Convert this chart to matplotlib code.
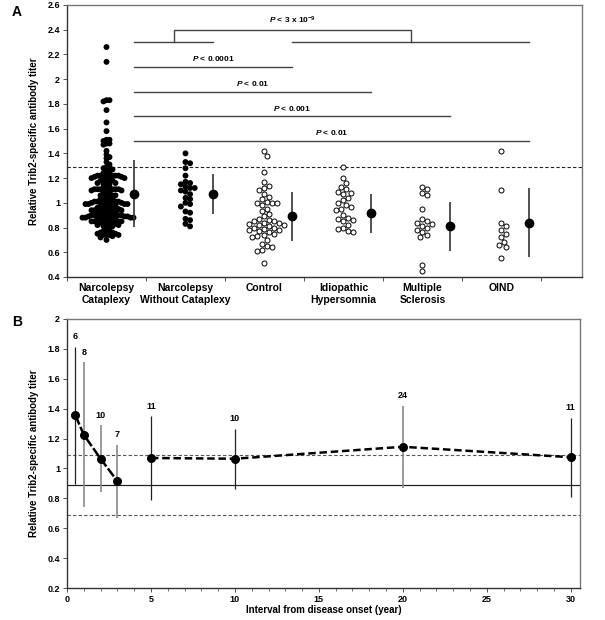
import numpy as np
import matplotlib
matplotlib.use('Agg')
import matplotlib.pyplot as plt
from matplotlib.transforms import blended_transform_factory

plt.rcParams['font.family'] = ['Liberation Sans', 'DejaVu Sans']
plt.rcParams['font.weight'] = 'bold'
plt.rcParams['mathtext.fontset'] = 'custom'
plt.rcParams['mathtext.rm'] = 'Liberation Sans:bold'
plt.rcParams['mathtext.it'] = 'Liberation Sans:italic:bold'
plt.rcParams['mathtext.bf'] = 'Liberation Sans:bold'

# ---------------- Panel A data ----------------
groups = ["Narcolepsy\nCataplexy", "Narcolepsy\nWithout Cataplexy", "Control",
          "Idiopathic\nHypersomnia", "Multiple\nSclerosis", "OIND"]

nc = [2.26, 2.14, 1.83, 1.83, 1.82, 1.75, 1.65, 1.58, 1.51, 1.51, 1.50, 1.48, 1.48, 1.47,
      1.42, 1.39, 1.37, 1.36, 1.33, 1.31, 1.29, 1.28, 1.28, 1.27, 1.26, 1.25, 1.24, 1.23,
      1.22, 1.22, 1.22, 1.22, 1.22, 1.22, 1.21, 1.21, 1.21, 1.20, 1.20, 1.20, 1.18, 1.18,
      1.18, 1.18, 1.16, 1.16, 1.16, 1.15, 1.15,
      1.12, 1.12, 1.12, 1.11, 1.11, 1.11, 1.11, 1.11, 1.11, 1.10, 1.10, 1.08, 1.08, 1.08,
      1.06, 1.06, 1.06, 1.05, 1.05,
      1.03, 1.03, 1.03, 1.01, 1.01, 1.01, 1.01, 1.01, 1.01, 1.00, 1.00, 1.00, 1.00, 1.00,
      0.99, 0.99, 0.99, 0.99, 0.98, 0.98, 0.98,
      0.96, 0.96, 0.96, 0.96, 0.95, 0.95, 0.95, 0.95, 0.94, 0.94, 0.94, 0.93, 0.93, 0.93,
      0.93, 0.92, 0.92, 0.92,
      0.90, 0.90, 0.90, 0.90, 0.90, 0.90, 0.90, 0.90, 0.89, 0.89, 0.89, 0.89, 0.89, 0.89,
      0.88, 0.88, 0.88, 0.88, 0.87, 0.87, 0.87, 0.87, 0.86, 0.86, 0.86, 0.85, 0.85, 0.85,
      0.85, 0.84, 0.84, 0.84, 0.83, 0.83, 0.83, 0.82, 0.82, 0.81, 0.81, 0.80, 0.80,
      0.77, 0.77, 0.77, 0.76, 0.76, 0.75, 0.75, 0.74, 0.74, 0.74, 0.74, 0.73, 0.72, 0.70]
nwc = [1.40, 1.33, 1.32, 1.28, 1.22, 1.17, 1.16, 1.15, 1.13, 1.12, 1.12, 1.10, 1.09,
       1.07, 1.04, 1.03, 1.00, 0.99, 0.97, 0.93, 0.92, 0.87, 0.86, 0.83, 0.81]
control = [1.42, 1.38, 1.25, 1.17, 1.14, 1.12, 1.10, 1.07, 1.05, 1.03, 1.01, 1.00, 1.00,
           1.00, 0.98, 0.95, 0.93, 0.91, 0.89, 0.87, 0.86, 0.85, 0.85, 0.84, 0.84, 0.83,
           0.82, 0.82, 0.81, 0.80, 0.80, 0.79, 0.78, 0.78, 0.77, 0.76, 0.75, 0.74, 0.73,
           0.72, 0.70, 0.67, 0.65, 0.64, 0.62, 0.61, 0.51]
ih = [1.29, 1.20, 1.16, 1.13, 1.11, 1.09, 1.08, 1.07, 1.04, 1.02, 1.00, 0.98, 0.97,
      0.95, 0.94, 0.90, 0.88, 0.87, 0.86, 0.85, 0.82, 0.80, 0.79, 0.77, 0.76]
ms = [1.13, 1.11, 1.08, 1.06, 0.95, 0.87, 0.85, 0.84, 0.83, 0.81, 0.80, 0.78, 0.76,
      0.74, 0.72, 0.50, 0.45]
oind = [1.42, 1.10, 0.84, 0.81, 0.78, 0.75, 0.72, 0.68, 0.66, 0.64, 0.55]
group_values = [nc, nwc, control, ih, ms, oind]
group_filled = [True, True, False, False, False, False]
group_means = [1.075, 1.07, 0.89, 0.915, 0.81, 0.84]
group_sd = [0.27, 0.16, 0.20, 0.16, 0.20, 0.28]
cutoff_a = 1.29

# comparisons: (first group, last group, height, label)
comparisons = [(0, 2, 2.1, r"$\mathit{P}$ < 0.0001"),
               (0, 3, 1.9, r"$\mathit{P}$ < 0.01"),
               (0, 4, 1.7, r"$\mathit{P}$ < 0.001"),
               (0, 5, 1.5, r"$\mathit{P}$ < 0.01")]
bracket_left = (0, 1)
bracket_right = (2, 5)
bracket_low, bracket_high = 2.3, 2.4
bracket_label = r"$\mathit{P}$ < 3 x 10$^{-9}$"

# ---------------- Panel B data ----------------
years = [0.5, 1, 2, 3, 5, 10, 20, 30]
titer = [1.355, 1.225, 1.065, 0.915, 1.07, 1.065, 1.145, 1.075]
titer_sd = [0.46, 0.485, 0.225, 0.245, 0.28, 0.20, 0.275, 0.265]
n_pat = [6, 8, 10, 7, 11, 10, 24, 11]
bar_gray = [False, True, True, True, False, False, True, False]
ctrl_mean_b = 0.889
ctrl_sd_b = 0.2

W, H = 605, 620
fig = plt.figure(figsize=(W / 100, H / 100), dpi=100)

def fr(l, t, r, b):
    return [l / W, 1 - b / H, (r - l) / W, (b - t) / H]

axA = fig.add_axes(fr(67, 5, 582, 277))
axB = fig.add_axes(fr(67, 319, 580, 588))

line_col = '#222222'
for ax in (axA, axB):
    for s in ('left', 'bottom'):
        ax.spines[s].set_color('#333333')
        ax.spines[s].set_linewidth(1.0)
    for s in ('top', 'right'):
        ax.spines[s].set_color('#777777')
        ax.spines[s].set_linewidth(1.0)
    ax.tick_params(direction='out', length=3, width=0.7, color='#555555',
                   labelsize=6.5, pad=2)

def fmt(v):
    s = f"{v:.1f}"
    return s[:-2] if s.endswith('.0') else s

# ---- Panel A ----
axA.set_xlim(0, 6.52)
axA.set_ylim(0.4, 2.6)
yt = np.round(np.arange(0.4, 2.61, 0.2), 1)
axA.set_yticks(yt)
axA.set_yticklabels([fmt(v) for v in yt])
axA.set_xticks(np.arange(0, 7))
axA.set_xticklabels([])
axA.set_ylabel("Relative Trib2-specific antibody titer", fontsize=7, fontweight='bold',
               labelpad=6)

def swarm_x(ax, center, vals, d):
    vals = np.asarray(vals, float)
    pix = ax.transData.transform(np.column_stack([np.full(vals.size, center), vals]))
    cx = pix[0, 0]
    ys = pix[:, 1]
    order = np.argsort(-vals, kind='stable')
    steps = [0.0]
    for m in range(1, 80):
        steps += [m * d * 0.5, -m * d * 0.5]
    px_list, py_list = [], []
    offs = np.zeros(vals.size)
    for i in order:
        y = ys[i]
        chosen = 0.0
        for s in steps:
            ok = True
            for qx, qy in zip(px_list, py_list):
                if (qx - s) ** 2 + (qy - y) ** 2 < d * d:
                    ok = False
                    break
            if ok:
                chosen = s
                break
        px_list.append(chosen)
        py_list.append(y)
        offs[i] = chosen
    data = ax.transData.inverted().transform(np.column_stack([cx + offs, ys]))
    return data[:, 0]

swarm_gap = [3.0, 4.6, 5.0, 5.0, 5.0, 5.0]
for i, vals in enumerate(group_values):
    xs = swarm_x(axA, i + 0.5, vals, swarm_gap[i])
    if group_filled[i]:
        axA.scatter(xs, vals, s=18, color='black', edgecolors='none', zorder=3)
    else:
        axA.scatter(xs, vals, s=13, facecolors='white', edgecolors='black',
                    linewidths=0.7, zorder=3)
    axA.errorbar(i + 0.85, group_means[i], yerr=group_sd[i], fmt='o', color='black',
                 ms=6, ecolor='#333333', elinewidth=1.2, capsize=0, zorder=4)

axA.axhline(cutoff_a, color=line_col, lw=0.8, ls=(0, (3, 2)), zorder=1)

mx = [i + 0.85 for i in range(len(groups))]
for g0, g1, yv, lab in comparisons:
    axA.plot([mx[g0], mx[g1]], [yv, yv], color='#444444', lw=1.0)
    axA.text((mx[g0] + mx[g1]) / 2, yv + 0.03, lab, ha='center', va='bottom',
             fontsize=6, fontweight='bold')

axA.plot([mx[bracket_left[0]], mx[bracket_left[1]]], [bracket_low] * 2, color='#444444', lw=1.0)
axA.plot([mx[bracket_right[0]], mx[bracket_right[1]]], [bracket_low] * 2, color='#444444', lw=1.0)
bl = (mx[bracket_left[0]] + mx[bracket_left[1]]) / 2
br = (mx[bracket_right[0]] + mx[bracket_right[1]]) / 2
axA.plot([bl, bl, br, br], [bracket_low, bracket_high, bracket_high, bracket_low],
         color='#444444', lw=1.0)
axA.text((bl + br) / 2, bracket_high + 0.03, bracket_label, ha='center', va='bottom',
         fontsize=6, fontweight='bold')

tr = blended_transform_factory(axA.transData, axA.transAxes)
for i, g in enumerate(groups):
    axA.text(i + 0.5, -0.022, g, transform=tr, ha='center', va='top', fontsize=7.5,
             fontweight='bold', linespacing=1.25)

fig.text(12 / W, 1 - 12 / H, "A", fontsize=10, fontweight='bold', ha='left', va='center')
fig.text(12 / W, 1 - 322 / H, "B", fontsize=10, fontweight='bold', ha='left', va='center')

# ---- Panel B ----
axB.set_xlim(0, 30.55)
axB.set_ylim(0.2, 2.0)
ytb = np.round(np.arange(0.2, 2.01, 0.2), 1)
axB.set_yticks(ytb)
axB.set_yticklabels([fmt(v) for v in ytb])
axB.set_xticks(np.arange(0, 31, 5))
axB.set_xticks(np.arange(0, 31, 1), minor=True)
axB.tick_params(which='minor', direction='out', length=2, width=0.6, color='#555555')
axB.set_ylabel("Relative Trib2-specific antibody titer", fontsize=7, fontweight='bold',
               labelpad=6)
axB.set_xlabel("Interval from disease onset (year)", fontsize=7, fontweight='bold',
               labelpad=1)

axB.axhline(ctrl_mean_b, color=line_col, lw=0.9, zorder=1)
axB.axhline(ctrl_mean_b + ctrl_sd_b, color='#555555', lw=0.8, ls=(0, (3, 2)), zorder=1)
axB.axhline(ctrl_mean_b - ctrl_sd_b, color='#555555', lw=0.8, ls=(0, (3, 2)), zorder=1)

for k in range(len(years)):
    c = '#8a8a8a' if bar_gray[k] else '#222222'
    axB.errorbar(years[k], titer[k], yerr=titer_sd[k], fmt='none', ecolor=c,
                 elinewidth=1.2 if bar_gray[k] else 0.9, capsize=0, zorder=2)
    axB.annotate(str(n_pat[k]), (years[k], titer[k] + titer_sd[k]), xytext=(0, 4),
                 textcoords='offset points', ha='center', va='bottom', fontsize=6.5,
                 fontweight='bold')

axB.plot(years[:4], titer[:4], color='black', lw=1.8, ls=(0, (4, 1)), zorder=3)
axB.plot(years[4:], titer[4:], color='black', lw=1.8, ls=(0, (3, 1.5)), zorder=3)
axB.scatter(years, titer, s=30, color='black', zorder=4)

fig.savefig('out.png', dpi=100)
